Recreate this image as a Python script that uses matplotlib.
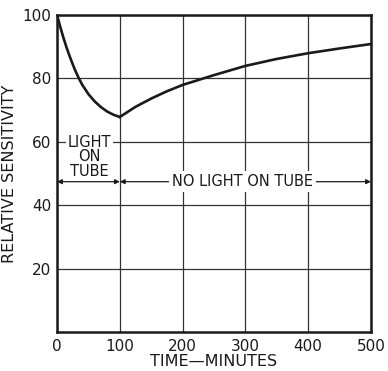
import numpy as np
import matplotlib.pyplot as plt

# light on tube (0-100 min): decay of sensitivity
t_on = [0, 5, 10, 15, 20, 25, 30, 35, 40, 50, 60, 70, 80, 90, 100]
s_on = [100, 96.3, 92.9, 89.8, 87.0, 84.4, 82.0, 79.9, 78.0, 75.0, 72.7,
        70.9, 69.5, 68.5, 67.8]

# no light (100-500 min): recovery
t_off = [100, 125, 150, 175, 200, 250, 300, 350, 400, 450, 500]
s_off = [67.8, 71.0, 73.6, 75.9, 77.9, 81.0, 83.9, 86.1, 87.9, 89.4, 90.8]

xticks = [0, 100, 200, 300, 400, 500]
yticks = [20, 40, 60, 80, 100]

plt.rcParams['font.family'] = ['DejaVu Sans']
ink = '#1a1a1a'

fig = plt.figure(figsize=(3.88, 3.71), dpi=100)
ax = fig.add_axes([0.147, 0.105, 0.809, 0.855])

ax.plot(t_on, s_on, color=ink, lw=1.9, zorder=3)
ax.plot(t_off, s_off, color=ink, lw=1.9, zorder=3)

ax.set_xlim(0, 500)
ax.set_ylim(0, 100)
ax.set_xticks(xticks)
ax.set_yticks(yticks)
ax.set_xticklabels([str(v) for v in xticks])
ax.tick_params(length=0, labelsize=11, colors=ink)
ax.tick_params(axis='x', pad=5)
ax.tick_params(axis='y', pad=4)
ax.grid(True, color='#333333', lw=0.9)
ax.set_axisbelow(True)
for s in ax.spines.values():
    s.set_linewidth(1.8)
    s.set_color(ink)

ax.set_xlabel('TIME—MINUTES', fontsize=11.5, color=ink, labelpad=0)
ax.set_ylabel('RELATIVE SENSITIVITY', fontsize=11.5, color=ink, labelpad=4)

# annotation arrows
ax.annotate('', xy=(0, 47.4), xytext=(100, 47.4),
            arrowprops=dict(arrowstyle='<|-|>', color=ink, lw=0.9,
                            mutation_scale=7, shrinkA=0, shrinkB=0), zorder=4)
ax.annotate('', xy=(100, 47.4), xytext=(500, 47.4),
            arrowprops=dict(arrowstyle='<|-|>', color=ink, lw=0.9,
                            mutation_scale=7, shrinkA=0, shrinkB=0), zorder=4)
ax.text(51, 55.3, 'LIGHT\nON\nTUBE', ha='center', va='center', fontsize=10.5,
        color=ink, linespacing=0.95, zorder=5,
        bbox=dict(boxstyle='square,pad=0.12', fc='white', ec='none'))
ax.text(296, 47.4, 'NO LIGHT ON TUBE', ha='center', va='center', fontsize=10.5,
        color=ink, zorder=5,
        bbox=dict(boxstyle='square,pad=0.2', fc='white', ec='none'))

fig.savefig('out.png', dpi=100)
